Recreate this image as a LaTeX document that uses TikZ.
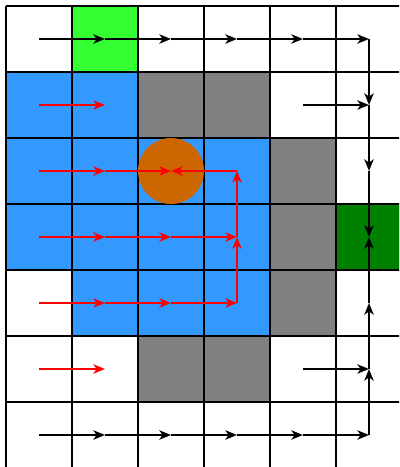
\documentclass[tikz,border=0pt]{standalone}
\usepackage{tikz}
\usetikzlibrary{arrows.meta}

\definecolor{fieldblue}{HTML}{3399FF}
\definecolor{startgreen}{HTML}{33FF33}
\definecolor{goalgreen}{HTML}{008000}
\definecolor{agentorange}{HTML}{CC6600}

\begin{document}
\begin{tikzpicture}[>={Stealth[length=5pt,width=4pt,inset=1.4pt]}, line width=1pt]
    % 画面范围
    \clip (-0.091,0.091) rectangle (5.955,-6.985);

    % 格子中心
    \foreach \i in {0,...,5}
        \foreach \j in {0,...,6}
            \coordinate (c\i\j) at (\i+0.5,-\j-0.5);

    % 蓝色区域
    \filldraw[fill=fieldblue, draw=fieldblue!60!white, line width=1.2pt]
        (0,-1) -- (2,-1) -- (2,-2) -- (4,-2) -- (4,-5) -- (1,-5) -- (1,-4) -- (0,-4) -- cycle;

    % 灰色障碍
    \filldraw[fill=gray, draw=gray!60!white, line width=1.2pt] (2,-1) rectangle (4,-2);
    \filldraw[fill=gray, draw=gray!60!white, line width=1.2pt] (4,-2) rectangle (5,-5);
    \filldraw[fill=gray, draw=gray!60!white, line width=1.2pt] (2,-5) rectangle (4,-6);

    % 起点与终点
    \filldraw[fill=startgreen, draw=startgreen!60!white, line width=1.2pt] (1,0) rectangle (2,-1);
    \filldraw[fill=goalgreen, draw=goalgreen!70!white, line width=1.2pt] (5,-3) rectangle (6,-4);

    % 网格
    \draw (0,-7) grid (7,0);

    % 圆
    \fill[agentorange] (c22) circle (0.5);

    % 红色箭头
    \foreach \a/\b in {01/11, 02/12, 12/22, 32/22, 33/32, 03/13, 13/23, 23/33,
                       34/33, 04/14, 14/24, 24/34, 05/15}
        \draw[->, red] (c\a) -- (c\b);

    % 黑色箭头
    \foreach \a/\b in {00/10, 10/20, 20/30, 30/40, 40/50, 50/51, 51/52, 52/53, 41/51,
                       06/16, 16/26, 26/36, 36/46, 46/56, 56/55, 55/54, 54/53, 45/55}
        \draw[->] (c\a) -- (c\b);
\end{tikzpicture}
\end{document}
